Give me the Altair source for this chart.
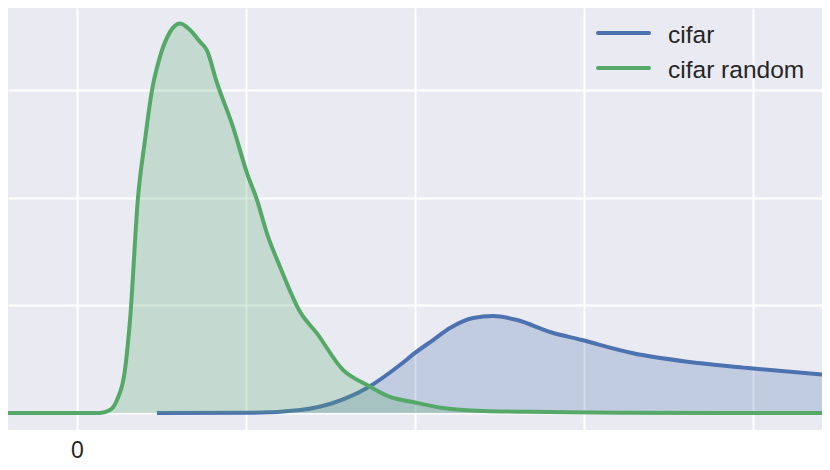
import altair as alt
import pandas as pd

series_names = ["cifar", "cifar random"]
series_colors = ["#4C72B0", "#55A868"]

cifar_x = [0.473, 1.024, 1.320, 1.515, 1.716, 1.911, 2.0, 2.107, 2.207, 2.343, 2.462, 2.604, 2.799, 2.988, 3.284, 3.675, 3.970, 4.408]
cifar_y = [0.0, 0.002, 0.028, 0.093, 0.232, 0.446, 0.558, 0.678, 0.790, 0.883, 0.901, 0.864, 0.753, 0.678, 0.558, 0.465, 0.418, 0.357]

random_x = [-0.408, 0.136, 0.195, 0.237, 0.284, 0.314, 0.361, 0.402, 0.444, 0.491, 0.550, 0.609, 0.669, 0.728, 0.769,
            0.828, 0.923, 1.006, 1.065, 1.124, 1.201, 1.320, 1.420, 1.574, 1.716, 1.852, 1.988, 2.166, 2.402, 2.799, 3.2, 4.408]
random_y = [0.0, 0.0, 0.028, 0.121, 0.40, 0.864, 2.0, 2.53, 3.0, 3.31, 3.54, 3.62, 3.56, 3.45, 3.37,
            3.07, 2.66, 2.23, 1.98, 1.67, 1.36, 0.94, 0.74, 0.40, 0.26, 0.149, 0.102, 0.046, 0.019, 0.009, 0.002, 0.0]

x_ticks = [0, 1, 2, 3, 4]
y_ticks = [0, 1, 2, 3]

x_scale = alt.Scale(domain=[-0.408, 4.408], nice=False, zero=False)
y_scale = alt.Scale(domain=[-0.158, 3.764], nice=False, zero=False)

x_axis = alt.Axis(values=x_ticks, labelExpr="datum.value == 0 ? '0' : ''", title=None,
                  grid=True, labelFontSize=23, labelColor="#262626", labelPadding=9,
                  labelFont="Liberation Sans")
y_axis = alt.Axis(values=y_ticks, labels=False, title=None, grid=True)

layers = []
for name, xs, ys, col in [(series_names[0], cifar_x, cifar_y, series_colors[0]),
                          (series_names[1], random_x, random_y, series_colors[1])]:
    df = pd.DataFrame({"x": xs, "y": ys, "series": name})
    base = alt.Chart(df)
    area = base.mark_area(color=col, opacity=0.25, interpolate="monotone").encode(
        x=alt.X("x:Q", scale=x_scale, axis=x_axis),
        y=alt.Y("y:Q", scale=y_scale, axis=y_axis, stack=None),
        y2=alt.datum(0),
    )
    line = base.mark_line(color=col, strokeWidth=4, interpolate="monotone").encode(
        x=alt.X("x:Q", scale=x_scale, axis=x_axis),
        y=alt.Y("y:Q", scale=y_scale, axis=y_axis),
    )
    layers += [area, line]

# legend
legend_layers = []
for i, (name, col) in enumerate(zip(series_names, series_colors)):
    ldf = pd.DataFrame({"label": [name]})
    rule = alt.Chart(ldf).mark_rule(color=col, strokeWidth=4, strokeCap="round").encode(
        x=alt.value(590), x2=alt.value(641), y=alt.value(25 + 35 * i))
    txt = alt.Chart(ldf).mark_text(align="left", baseline="alphabetic", fontSize=24.5,
                                   font="Liberation Sans", color="#262626").encode(
        x=alt.value(660), y=alt.value(35 + 35 * i), text="label:N")
    legend_layers += [rule, txt]

chart = alt.layer(*layers, *legend_layers).properties(
    width=814, height=422,
    padding={"left": 0, "top": 0, "right": 0, "bottom": 32},
    autosize=alt.AutoSizeParams(type="none"),
).configure_view(fill="#EAEAF2", stroke=None).configure_axis(
    gridColor="white", gridWidth=2, domain=False, ticks=False,
)

chart.save("out.html", embed_options={"renderer": "svg", "actions": False})
